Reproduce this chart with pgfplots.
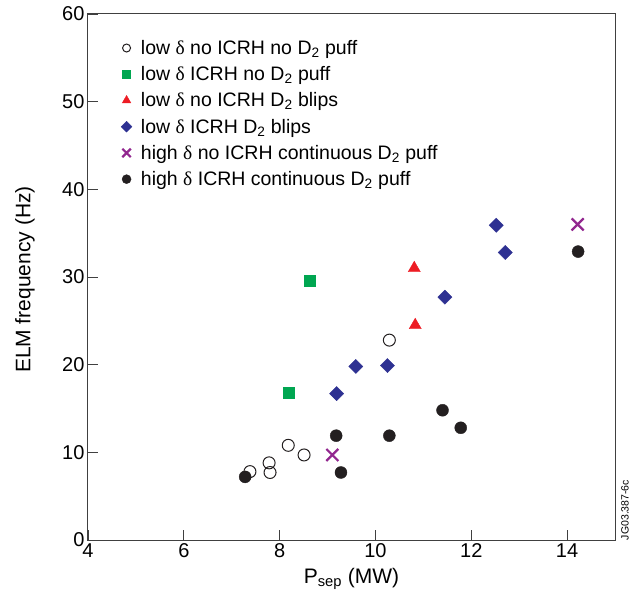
\documentclass[border=0pt]{standalone}
\usepackage{pgfplots}
\pgfplotsset{compat=1.18}
\usepackage{fontspec}
\setmainfont{Liberation Sans}
\newfontfamily\symfont{Liberation Serif}
\newcommand{\dlt}{{\symfont δ}}
\definecolor{mgreen}{HTML}{00A651}
\definecolor{mred}{HTML}{ED1C24}
\definecolor{mblue}{HTML}{2E3192}
\definecolor{mpurple}{HTML}{92278F}
\definecolor{mblack}{HTML}{231F20}
\begin{document}
\begin{tikzpicture}
\begin{axis}[
  scale only axis, width=527pt, height=526pt,
  xmin=4, xmax=15, ymin=0, ymax=60,
  xtick={4,6,...,14}, ytick={0,10,...,60},
  tick align=inside, xtick pos=bottom, ytick pos=left,
  major tick length=10pt,
  axis line style={draw=black!75, line width=1pt},
  tick style={draw=black!75, line width=0.8pt},
  /pgf/number format/assume math mode=true,
  tick label style={font=\fontsize{20}{24}\selectfont},
  label style={font=\fontsize{21}{25}\selectfont},
  xlabel={P\textsubscript{sep} (MW)},
  ylabel={ELM frequency (Hz)},
  xlabel style={yshift=-4pt},
  ylabel style={at={(axis description cs:-0.1195,0.495)}, anchor=center},
  legend cell align=left,
  legend style={at={(0,1)}, anchor=north west, xshift=30pt, yshift=-22pt,
    draw=none, fill=none, font=\fontsize{19.5}{22}\selectfont, row sep=6.6pt, column sep=7pt},
]
\addplot[only marks, mark=o, mark size=6pt, mark options={draw=mblack, line width=1pt},
  legend image post style={mark size=4pt}]
  coordinates {(10.29,22.8) (8.18,10.8) (8.51,9.7) (7.78,8.8) (7.80,7.7) (7.38,7.8)};
\addlegendentry{low \dlt\ no ICRH no D\textsubscript{2} puff}
\addplot[only marks, mark=square*, mark size=5.5pt, mark options={draw=mgreen, fill=mgreen},
  legend image post style={mark size=4pt}]
  coordinates {(8.62,29.6) (8.18,16.8)};
\addlegendentry{low \dlt\ ICRH no D\textsubscript{2} puff}
\addplot[only marks, mark=triangle*, mark size=7pt, mark options={draw=mred, fill=mred},
  legend image post style={mark size=5pt}]
  coordinates {(10.81,31.0) (10.83,24.5)};
\addlegendentry{low \dlt\ no ICRH D\textsubscript{2} blips}
\addplot[only marks, mark=square*, mark size=5pt, mark options={draw=mblue, fill=mblue, rotate=45},
  legend image post style={mark size=3.8pt}]
  coordinates {(12.52,35.9) (12.71,32.8) (11.45,27.7) (9.59,19.8) (10.25,19.9) (9.19,16.7)};
\addlegendentry{low \dlt\ ICRH D\textsubscript{2} blips}
\addplot[only marks, mark=x, mark size=8.5pt, mark options={draw=mpurple, line width=2.2pt},
  legend image post style={mark size=6pt}]
  coordinates {(14.22,36.0) (9.10,9.7)};
\addlegendentry{high \dlt\ no ICRH continuous D\textsubscript{2} puff}
\addplot[only marks, mark=*, mark size=6pt, mark options={draw=mblack, fill=mblack},
  legend image post style={mark size=4.5pt}]
  coordinates {(14.23,32.9) (11.40,14.8) (11.78,12.8) (9.18,11.9) (10.29,11.9) (9.28,7.7) (7.28,7.2)};
\addlegendentry{high \dlt\ ICRH continuous D\textsubscript{2} puff}
\end{axis}
\node[rotate=90, font=\fontsize{10.5}{12}\selectfont, anchor=center]
  at ([shift={(10pt,30pt)}]current axis.south east) {JG03.387-6c};
\pgfresetboundingbox
\path ([shift={(-88pt,-63pt)}]current axis.south west) rectangle ([shift={(22pt,14pt)}]current axis.north east);
\end{tikzpicture}
\end{document}
